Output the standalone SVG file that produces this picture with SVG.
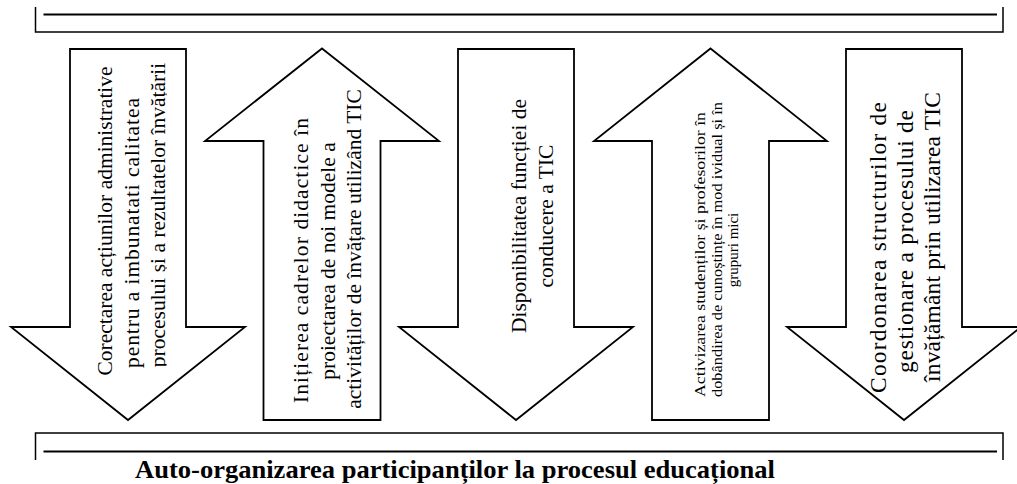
<svg xmlns="http://www.w3.org/2000/svg" width="1017" height="484" viewBox="0 0 1017 484">
<style>
.arrow{fill:#fff;stroke:#000;stroke-width:1.8;stroke-linejoin:miter}
.br{fill:none;stroke:#000;stroke-width:1.5}
.in{fill:none;stroke:#000;stroke-width:2.2}
.t{font-family:"Liberation Serif","Times New Roman",serif;font-size:21.5px;fill:#000;text-anchor:middle}
.s{font-size:15px}
.m{font-size:23.5px}
.b{font-family:"Liberation Serif","Times New Roman",serif;font-weight:bold;font-size:25px;fill:#000}
</style>
<defs>
<clipPath id="c1"><rect x="0" y="0" width="166.5" height="484"/></clipPath>
</defs>
<rect width="1017" height="484" fill="#fff"/>
<g id="top-bracket">
<path class="br" d="M35.5,7 V32 H1003 V7"/>
<line class="in" x1="43.5" y1="14.5" x2="997" y2="14.5"/>
</g>
<g id="bottom-bracket">
<path class="br" d="M35.5,460 V433 H1003 V460"/>
<line class="in" x1="43.5" y1="451.5" x2="997" y2="451.5"/>
<text class="b" x="135" y="478" textLength="640" lengthAdjust="spacingAndGlyphs">Auto-organizarea participanților la procesul educațional</text>
</g>
<g id="arrow1">
<path class="arrow" d="M70,49 H186 V327 H245 L128,420 L11,327 H70 Z"/>
<g clip-path="url(#c1)">
<text class="t" transform="rotate(-90)"><tspan x="-221" y="112">Corectarea acțiunilor administrative</tspan><tspan x="-233" y="138.7" textLength="270" lengthAdjust="spacing">pentru a imbunatati calitatea</tspan><tspan x="-215" y="165.4">procesului și a rezultatelor învățării</tspan></text>
</g>
</g>
<g id="arrow2">
<path class="arrow" d="M322,48.5 L439,141 H380.5 V420 H263.5 V141 H205 Z"/>
<text class="t" transform="rotate(-90)"><tspan x="-260.5" y="308" textLength="285" lengthAdjust="spacing">Inițierea cadrelor didactice în</tspan><tspan x="-261" y="334.7">proiectarea de noi modele a</tspan><tspan x="-249" y="361.4">activităților de învățare utilizând TIC</tspan></text>
</g>
<g id="arrow3">
<path class="arrow" d="M458,49 H574 V327 H633 L516,420 L399,327 H458 Z"/>
<text class="t" transform="rotate(-90)"><tspan x="-216" y="526">Disponibilitatea funcției de</tspan><tspan x="-216" y="553">conducere a TIC</tspan></text>
</g>
<g id="arrow4">
<path class="arrow" d="M710.5,48.5 L827,141 H769 V420 H652 V141 H594 Z"/>
<text class="t s" transform="rotate(-90)"><tspan x="-254.5" y="705" textLength="285" lengthAdjust="spacingAndGlyphs">Activizarea studenților și profesorilor în</tspan><tspan x="-249.5" y="721.5" textLength="295" lengthAdjust="spacingAndGlyphs">dobândirea de cunoștințe în mod ividual și în</tspan><tspan x="-250" y="738">grupuri mici</tspan></text>
</g>
<g id="arrow5">
<path class="arrow" d="M846,49 H962 V327 H1021 L904,420 L787,327 H846 Z"/>
<text class="t m" transform="rotate(-90)"><tspan x="-247.5" y="886" textLength="291" lengthAdjust="spacing">Coordonarea structurilor de</tspan><tspan x="-241.5" y="913" textLength="263" lengthAdjust="spacing">gestionare a procesului de</tspan><tspan x="-237" y="940" textLength="290" lengthAdjust="spacing">învățământ prin utilizarea TIC</tspan></text>
</g>
<g id="connectors"></g>
</svg>
